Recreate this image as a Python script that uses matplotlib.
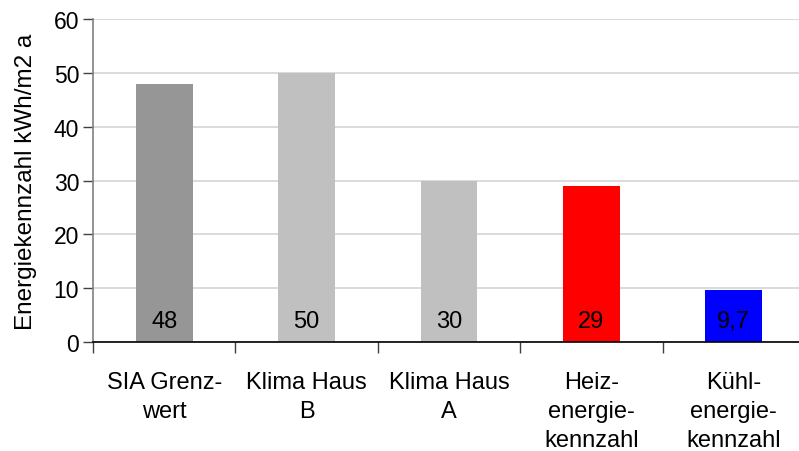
import matplotlib
matplotlib.use("Agg")
import matplotlib.pyplot as plt
import numpy as np

categories = ["SIA Grenz-\nwert", "Klima Haus\nB", "Klima Haus\nA", "Heiz-\nenergie-\nkennzahl", "Kühl-\nenergie-\nkennzahl"]
values = [48, 50, 30, 29, 9.7]
value_labels = ["48", "50", "30", "29", "9,7"]
colors = ["#969696", "#C0C0C0", "#C0C0C0", "#FF0000", "#0000FF"]
yticks = [0, 10, 20, 30, 40, 50, 60]

plt.rcParams['font.family'] = ['Liberation Sans', 'DejaVu Sans']

fig = plt.figure(figsize=(7.99, 4.52), dpi=100)
ax = fig.add_axes([93/799, (452-343)/452, (805-93)/799, (343-20.3)/452])

x = np.arange(len(categories))
ax.bar(x, values, width=0.4, color=colors, zorder=2)
for xi, lbl in zip(x, value_labels):
    ax.text(xi, 3.9, lbl, ha='center', va='center', fontsize=17, color='black', zorder=3)

ax.set_xlim(-0.5, len(categories) - 0.5)
ax.set_ylim(0, 60)
ax.set_yticks(yticks)
ax.set_yticklabels([str(t) for t in yticks], fontsize=16.5)
ax.yaxis.grid(True, color='#D4D4D4', linewidth=1.2, zorder=0)
ax.set_axisbelow(True)

ax.set_xticks(x)
ax.set_xticklabels(categories, fontsize=17, linespacing=1.4)
ax.tick_params(axis='x', which='major', length=0, pad=21)
ax.set_xticks(np.arange(-0.5, len(categories)), minor=True)
ax.tick_params(axis='x', which='minor', length=8, width=1, color='#404040', direction='out')
ax.tick_params(axis='y', length=7, width=1, color='#404040', direction='out', pad=3)

for s in ['top', 'right']:
    ax.spines[s].set_visible(False)
ax.spines['left'].set_color('#808080')
ax.spines['left'].set_linewidth(1.2)
ax.spines['bottom'].set_color('black')
ax.spines['bottom'].set_linewidth(1.2)

ax.set_ylabel("Energiekennzahl kWh/m2 a", fontsize=17.5, labelpad=12)

fig.savefig("out.png", dpi=100)
